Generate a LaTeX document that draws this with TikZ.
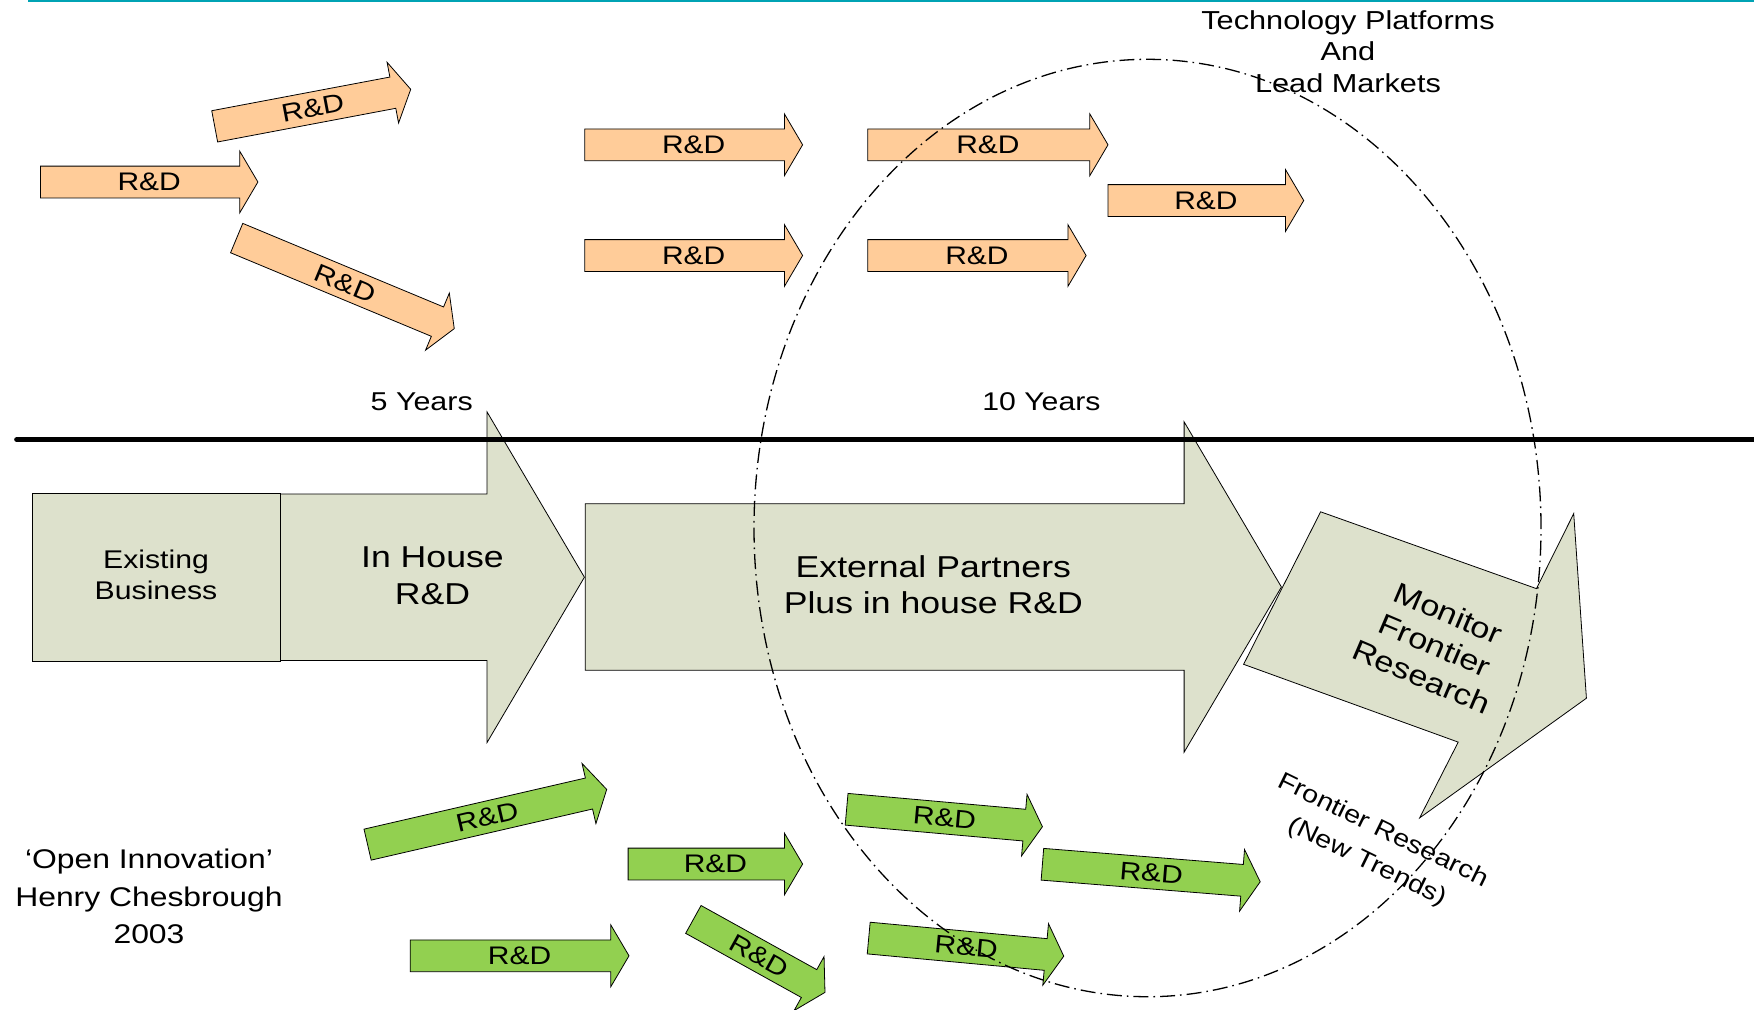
\documentclass[tikz,border=0pt]{standalone}
\usepackage{fontspec}
\setmainfont{Liberation Sans}[FakeStretch=1.18]
\usetikzlibrary{shapes.arrows,calc}

\definecolor{rdorange}{RGB}{255,204,153}
\definecolor{rdgreen}{RGB}{146,208,80}
\definecolor{stagegrey}{RGB}{221,225,204}
\definecolor{slideline}{RGB}{0,163,180}

\begin{document}
\begin{tikzpicture}[x=5pt,y=5pt,
    rd/.style={single arrow, draw=black, line width=0.4pt, inner xsep=0pt,
      inner ysep=7.75pt, minimum width=30.5pt, single arrow head extend=7.5pt,
      single arrow tip angle=119, anchor=tail},
    rdo/.style={rd, fill=rdorange},
    rdg/.style={rd, fill=rdgreen},
    rdlabel/.style={inner sep=0pt, font=\fontsize{12.7}{15}\selectfont},
    stage/.style={draw=black, line width=0.4pt, fill=stagegrey},
    bigarrow/.style={stage, single arrow, inner xsep=0pt, inner ysep=41.4pt,
      minimum width=165pt, single arrow head extend=41pt,
      single arrow tip angle=119, anchor=tail},
    txt/.style={align=center, inner sep=0pt},
    horizon/.style={line width=0.65pt, dash pattern=on 7.5pt off 2.5pt on 0.8pt off 2.5pt}]
    \useasboundingbox (0,0) rectangle (175.4,-100.9);
    \draw [slideline, line width=1pt] (2.8,-0.1) -- (175.4,-0.1);
    % in house R&D, upper half
    \node [rdo, minimum height=108.75pt] (rdA) at (4.00,-18.20) {};
    \node [rdo, rotate=10.7, minimum height=99.75pt] (rdB) at (21.43,-12.64) {};
    \node [rdo, rotate=-22.6, minimum height=117.85pt] (rdC) at (23.63,-23.79) {};
    \node [rdo, minimum height=108.9pt] (rdD) at (58.44,-14.48) {};
    \node [rdo, minimum height=108.9pt] (rdE) at (58.44,-25.55) {};
    \node [rdo, minimum height=120.1pt] (rdF) at (86.74,-14.48) {};
    \node [rdo, minimum height=109.15pt] (rdG) at (86.74,-25.55) {};
    \node [rdo, minimum height=97.85pt] (rdH) at (110.76,-20.05) {};
    \node [rdlabel] (rdA-t) at ($(rdA.tail)!.5!(rdA.tip)$) {R\&D};
    \node [rdlabel, rotate=10.7] (rdB-t) at ($(rdB.tail)!.5!(rdB.tip)$) {R\&D};
    \node [rdlabel, rotate=-22.6] (rdC-t) at ($(rdC.tail)!.5!(rdC.tip)$) {R\&D};
    \node [rdlabel] (rdD-t) at ($(rdD.tail)!.5!(rdD.tip)$) {R\&D};
    \node [rdlabel] (rdE-t) at ($(rdE.tail)!.5!(rdE.tip)$) {R\&D};
    \node [rdlabel] (rdF-t) at ($(rdF.tail)!.5!(rdF.tip)$) {R\&D};
    \node [rdlabel] (rdG-t) at ($(rdG.tail)!.5!(rdG.tip)$) {R\&D};
    \node [rdlabel] (rdH-t) at ($(rdH.tail)!.5!(rdH.tip)$) {R\&D};
    % stages
    \node [bigarrow, minimum height=152pt] (inhouse) at (28.0,-57.72) {};
    \node [stage, minimum width=124pt, minimum height=84pt] (existing) at (15.6,-57.7) {};
    \node [bigarrow, minimum height=348.1pt] (partners) at (58.48,-58.70) {};
    \draw [stage] (132.06,-51.18) -- (153.64,-58.86) -- (157.37,-51.36) -- (158.64,-69.82)
      -- (141.96,-81.79) -- (145.82,-74.21) -- (124.36,-66.43) -- cycle;
    \node [txt, font=\fontsize{12.8}{15.3}\selectfont] (existing-t) at (15.6,-57.5) {Existing\\Business};
    \node [txt, font=\fontsize{15.1}{18.3}\selectfont] (inhouse-t) at ($(inhouse.tail)!.5!(inhouse.tip)+(0,0.15)$) {In House\\R\&D};
    \node [txt, font=\fontsize{15.1}{18}\selectfont] (partners-t) at ($(partners.tail)!.5!(partners.tip)+(0,0.2)$) {External Partners\\Plus in house R\&D};
    \node [txt, rotate=-23, font=\fontsize{14.5}{17.3}\selectfont] (monitor) at (143.5,-64.5) {Monitor\\Frontier\\Research};
    \draw [line width=2.65pt, line cap=round] (1.68,-43.96) -- (175.4,-43.96);
    % external R&D, lower half
    \node [rdg, rotate=13, minimum height=122.7pt] (rdI) at (36.72,-84.47) {};
    \node [rdg, minimum height=109.4pt] (rdJ) at (40.98,-95.58) {};
    \node [rdg, minimum height=87.25pt] (rdK) at (62.77,-86.40) {};
    \node [rdg, rotate=-29, minimum height=75.25pt] (rdL) at (69.30,-91.92) {};
    \node [rdg, rotate=-5.1, minimum height=98.3pt] (rdM) at (84.62,-80.92) {};
    \node [rdg, rotate=-4.6, minimum height=109.25pt] (rdN) at (104.20,-86.42) {};
    \node [rdg, rotate=-5.3, minimum height=97.95pt] (rdO) at (86.83,-93.80) {};
    \node [rdlabel, rotate=13] (rdI-t) at ($(rdI.tail)!.5!(rdI.tip)$) {R\&D};
    \node [rdlabel] (rdJ-t) at ($(rdJ.tail)!.5!(rdJ.tip)$) {R\&D};
    \node [rdlabel] (rdK-t) at ($(rdK.tail)!.5!(rdK.tip)$) {R\&D};
    \node [rdlabel, rotate=-29] (rdL-t) at ($(rdL.tail)!.5!(rdL.tip)$) {R\&D};
    \node [rdlabel, rotate=-5.1] (rdM-t) at ($(rdM.tail)!.5!(rdM.tip)$) {R\&D};
    \node [rdlabel, rotate=-4.6] (rdN-t) at ($(rdN.tail)!.5!(rdN.tip)$) {R\&D};
    \node [rdlabel, rotate=-5.3] (rdO-t) at ($(rdO.tail)!.5!(rdO.tip)$) {R\&D};
    % texts
    \node [txt, font=\fontsize{13}{15.7}\selectfont] (platforms) at (134.8,-5.15) {Technology Platforms\\And\\Lead Markets};
    \node [txt, font=\fontsize{12.9}{15}\selectfont] (five) at (42.17,-40.16) {5 Years};
    \node [txt, font=\fontsize{12.8}{15}\selectfont] (ten) at (104.14,-40.16) {10 Years};
    \node [txt, font=\fontsize{13.5}{18.75}\selectfont] (chesbrough) at (14.9,-89.65) {‘Open Innovation’\\Henry Chesbrough\\2003};
    \node [txt, rotate=-26, font=\fontsize{12.2}{17.5}\selectfont] (trends) at (137.5,-84.67) {Frontier Research\\(New Trends)};
    \draw [horizon] (114.75,-52.8) ellipse (39.35 and 46.87);
\end{tikzpicture}
\end{document}
